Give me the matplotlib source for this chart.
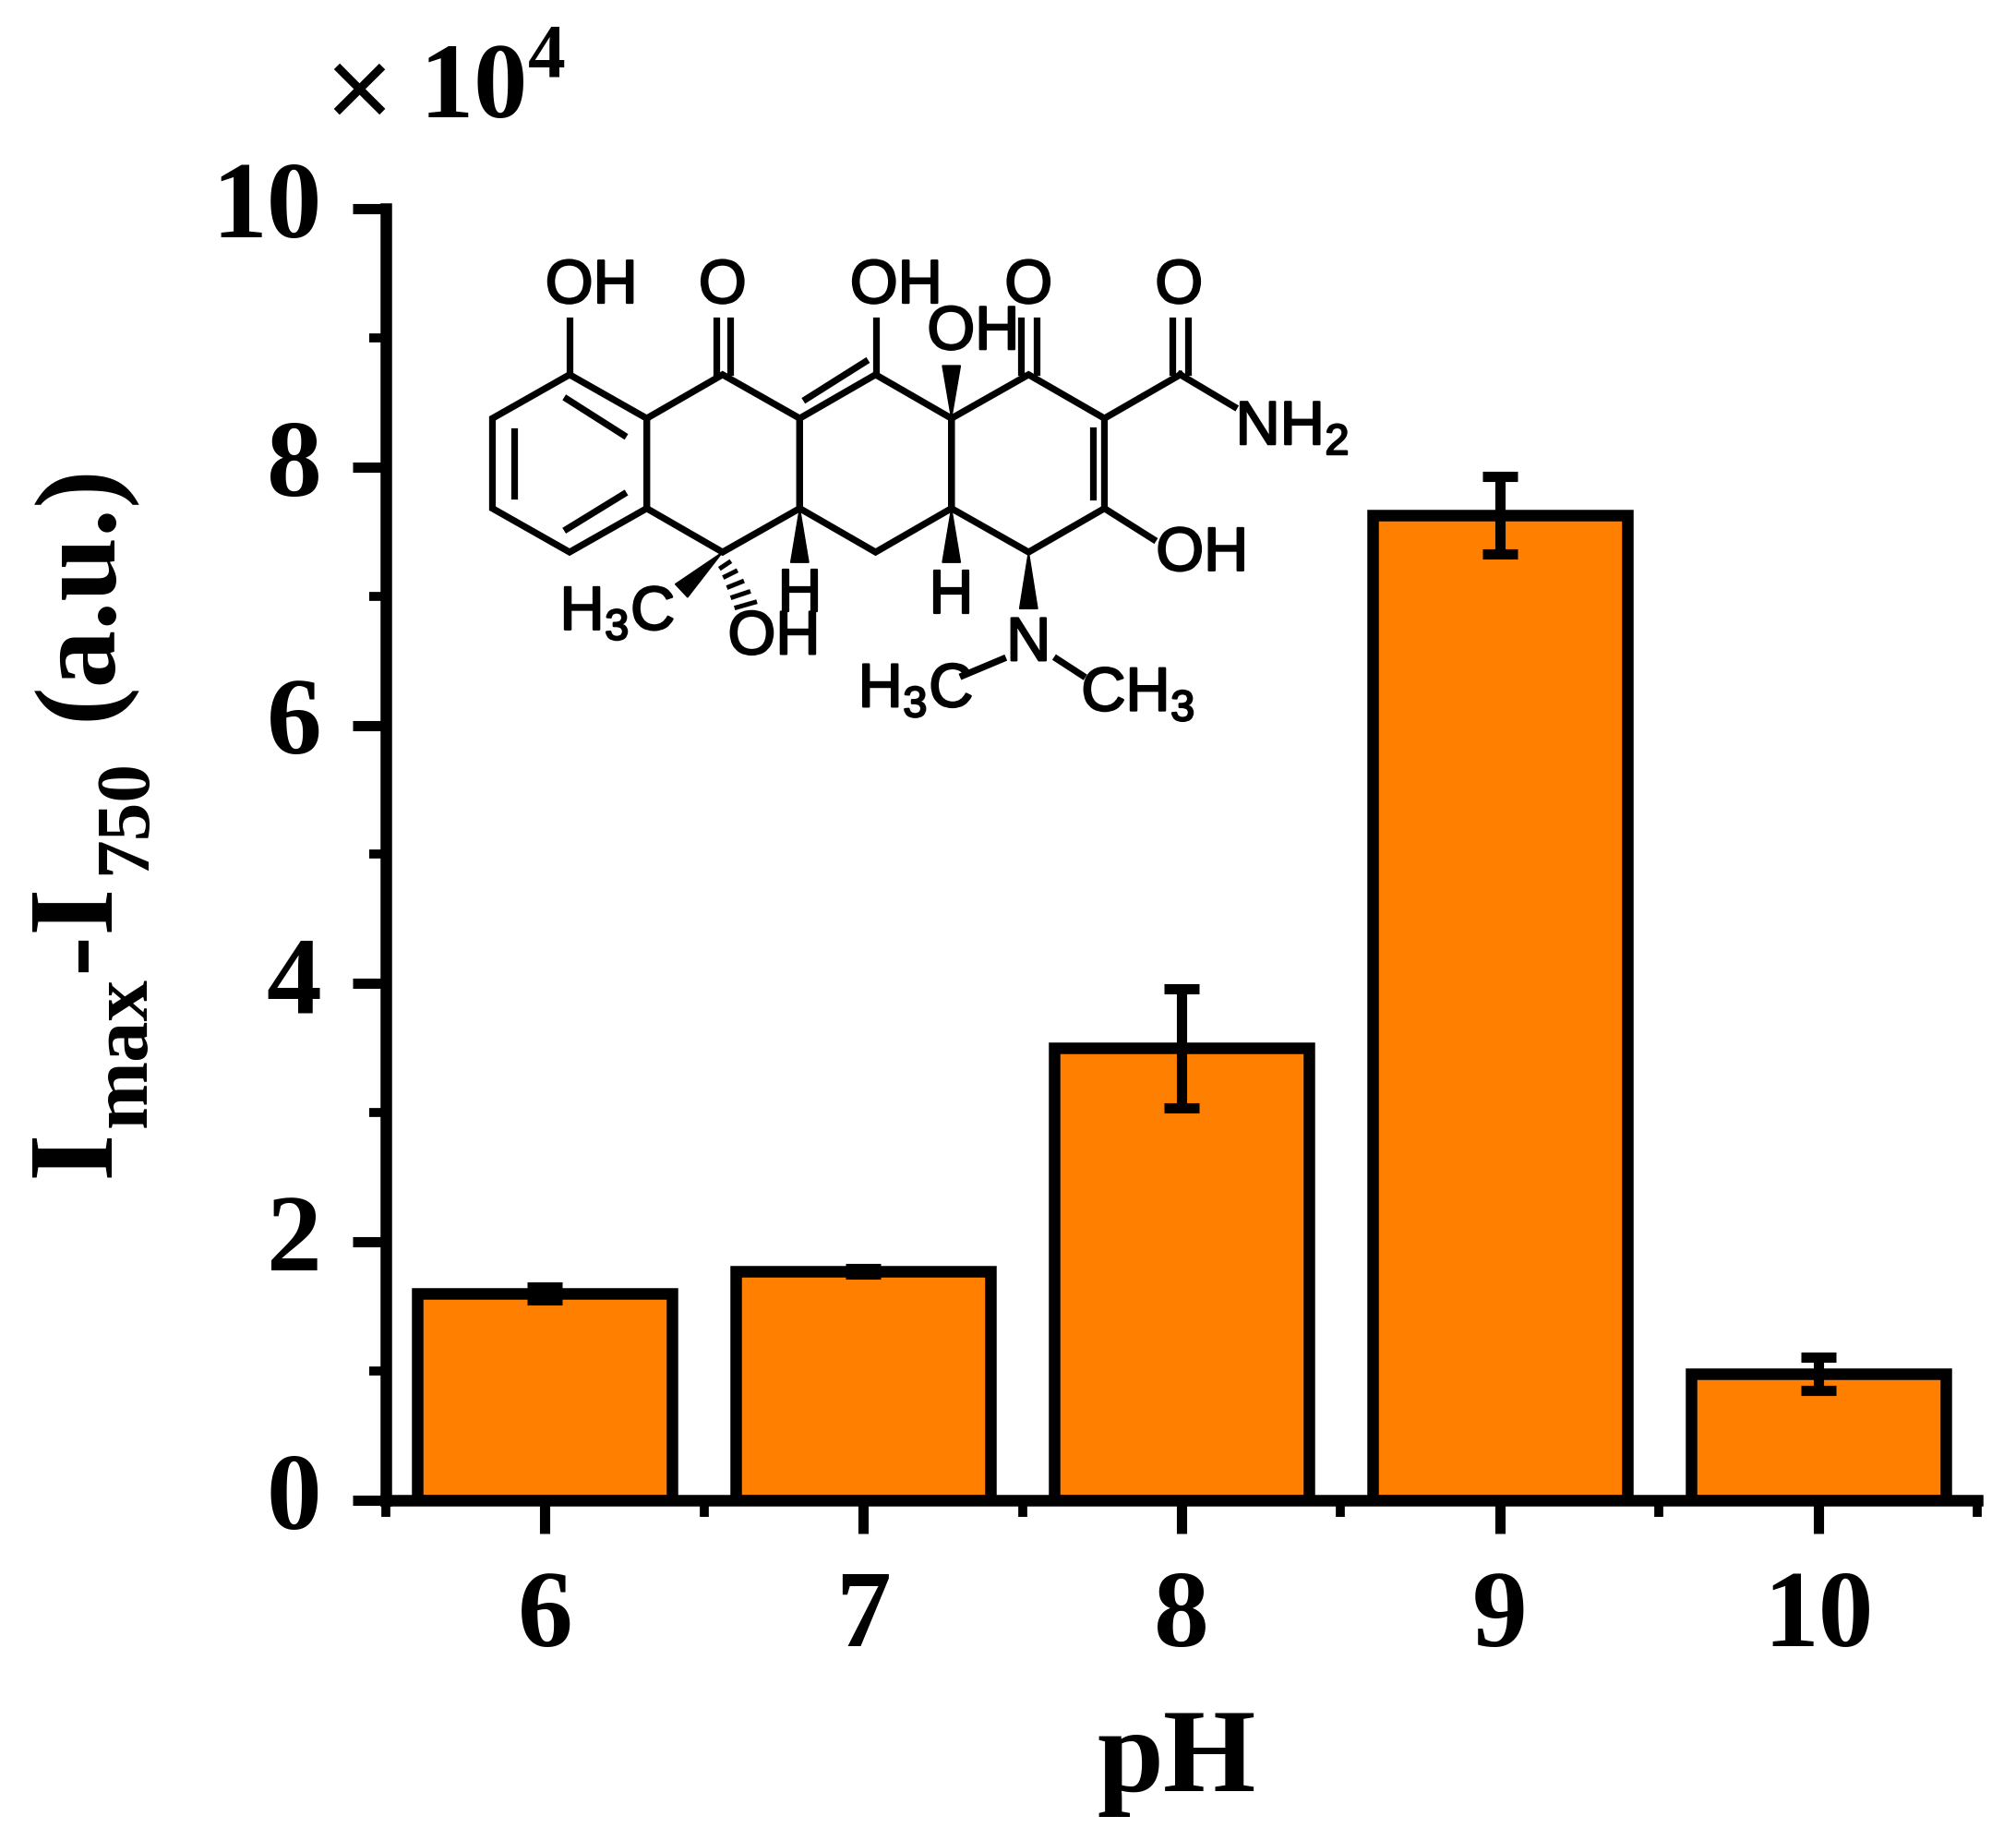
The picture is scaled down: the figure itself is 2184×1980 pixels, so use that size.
import matplotlib
matplotlib.use('Agg')
import numpy as np
import matplotlib.pyplot as plt
import matplotlib.patheffects as pe
from matplotlib.ticker import MultipleLocator
from matplotlib.transforms import ScaledTranslation

plt.rcParams['font.family'] = ['Liberation Serif', 'DejaVu Sans']
plt.rcParams['mathtext.fontset'] = 'custom'
plt.rcParams['mathtext.rm'] = 'Liberation Sans'
plt.rcParams['mathtext.bf'] = 'Liberation Serif:bold'

ph = [6, 7, 8, 9, 10]
intensity = [1.6, 1.77, 3.5, 7.63, 0.98]
err = [0.05, 0.02, 0.46, 0.3, 0.13]
tick_labels = ['6', '7', '8', '9', '10']

# molecule drawing, in pixels of the shrunk 1568x1422 picture
rings = [
    [(443, 292), (503, 326), (503, 396), (443, 430), (383, 396), (383, 326)],
    [(503, 326), (562, 292), (622, 326), (622, 396), (562, 430), (503, 396)],
    [(622, 326), (681, 292), (740, 326), (740, 396), (681, 430), (622, 396)],
    [(740, 326), (800, 292), (859, 326), (859, 396), (800, 430), (740, 396)],
]
bonds = [
    ((443, 292), (443, 250)), ((681, 292), (681, 250)),
    ((557, 290), (557, 250)), ((568, 290), (568, 250)),
    ((794, 290), (794, 250)), ((806, 290), (806, 250)),
    ((912, 290), (912, 250)), ((924, 290), (924, 250)),
    ((859, 326), (918, 292)), ((918, 292), (960, 317)),
    ((859, 396), (897, 420)),
    ((400, 336), (400, 386)), ((441, 311), (485, 339)), ((441, 412), (485, 385)),
    ((627, 311), (673, 282)), ((850, 335), (850, 387)),
    ((749, 526), (780, 513)), ((822, 513), (842, 526)),
]
wedges = [
    ((740, 326), (740, 285)), ((622, 396), (622, 438)), ((740, 396), (740, 438)),
    ((800, 430), (800, 474)), ((562, 430), (530, 460)),
]
hashes = [(564, 440), (568, 447), (572, 455), (576, 463), (580, 471)]
labels = [
    ('OH', 460, 224), ('O', 562, 224), ('OH', 697, 224), ('O', 800, 224),
    ('O', 917, 224), ('OH', 757, 260), ('NH$_2$', 1005, 334), ('OH', 935, 432),
    ('H', 622, 464), ('H', 740, 465), ('H$_3$C', 480, 478), ('OH', 602, 497),
    ('N', 800, 502), ('H$_3$C', 712, 538), ('CH$_3$', 885, 541),
]
# y-axis title pieces: text, baseline x, centre y, font size
ylabel_parts = [
    ('I', 84, 897, 95), ('max', 113, 818, 64), ('-', 84, 740, 95),
    ('I', 84, 706, 95), ('750', 113, 635, 60), ('(a.u.)', 86, 460, 90),
]

fig = plt.figure(figsize=(21.84, 19.81), dpi=100)
ax = fig.add_axes([300 / 1568, 1 - 1167 / 1422, (1538 - 300) / 1568, (1167 - 163) / 1422])

ax.bar(ph, intensity, width=0.8, color='#ff8000', edgecolor='black', linewidth=9)
ax.errorbar(ph, intensity, yerr=err, fmt='none', ecolor='black', elinewidth=8,
            capsize=14, capthick=8)

ax.set_xlim(5.5, 10.5)
ax.set_ylim(0, 10)
ax.set_xticks(ph)
ax.set_xticklabels(tick_labels)
ax.set_xticks([5.5, 6.5, 7.5, 8.5, 9.5, 10.5], minor=True)
ax.yaxis.set_major_locator(MultipleLocator(2))
ax.yaxis.set_minor_locator(MultipleLocator(1))

for s in ['top', 'right']:
    ax.spines[s].set_visible(False)
for s in ['left', 'bottom']:
    ax.spines[s].set_linewidth(9)

ax.tick_params(which='major', length=26, width=8)
ax.tick_params(which='minor', length=13, width=7)
ax.tick_params(axis='x', which='major', pad=28)
ax.tick_params(axis='y', which='major', pad=24)
for t in ax.get_xticklabels() + ax.get_yticklabels():
    t.set_fontsize(86)
    t.set_fontweight('bold')
# y tick labels sit a little above their ticks in the original
up = ScaledTranslation(0, 8 / 72, fig.dpi_scale_trans)
for t in ax.get_yticklabels():
    t.set_transform(t.get_transform() + up)

# overlay for the scale note, axis titles and molecule
ov = fig.add_axes([0, 0, 1, 1], zorder=5)
ov.set_xlim(0, 1568)
ov.set_ylim(1422, 0)
ov.axis('off')

ov.text(915, 1370, 'pH', fontsize=93, fontweight='bold', ha='center', va='center')
for s, x, y, size in ylabel_parts:
    ov.text(x, y, s, fontsize=size, fontweight='bold', rotation=90, rotation_mode='anchor',
            ha='center', va='baseline')
ov.text(279, 76, '×', fontsize=90, family=['Liberation Sans'], ha='center', va='center')
ov.text(326, 72, r'10$^{\mathbf{4}}$', fontsize=84, fontweight='bold', ha='left', va='center')

for ring in rings:
    xy = np.array(ring + [ring[0]])
    ov.plot(xy[:, 0], xy[:, 1], color='black', lw=5.2, solid_joinstyle='miter')
for a, b in bonds:
    ov.plot([a[0], b[0]], [a[1], b[1]], color='black', lw=5.2)
for a, b in wedges:
    d = np.array([b[0] - a[0], b[1] - a[1]], dtype=float)
    n = np.array([-d[1], d[0]]) / np.hypot(*d)
    ov.fill([a[0], b[0] + n[0] * 7, b[0] - n[0] * 7], [a[1], b[1] + n[1] * 7, b[1] - n[1] * 7], color='black')
for i, (x, y) in enumerate(hashes):
    ov.plot([x - 3 - i, x + 3 + i], [y + 2, y - 2], color='black', lw=3.6)
for s, x, y in labels:
    ov.text(x, y, s, fontsize=48, family=['Liberation Sans'], ha='center', va='center', color='black',
            math_fontfamily='custom', path_effects=[pe.withStroke(linewidth=1.6, foreground='black')])

fig.savefig('out.png', dpi=100)
